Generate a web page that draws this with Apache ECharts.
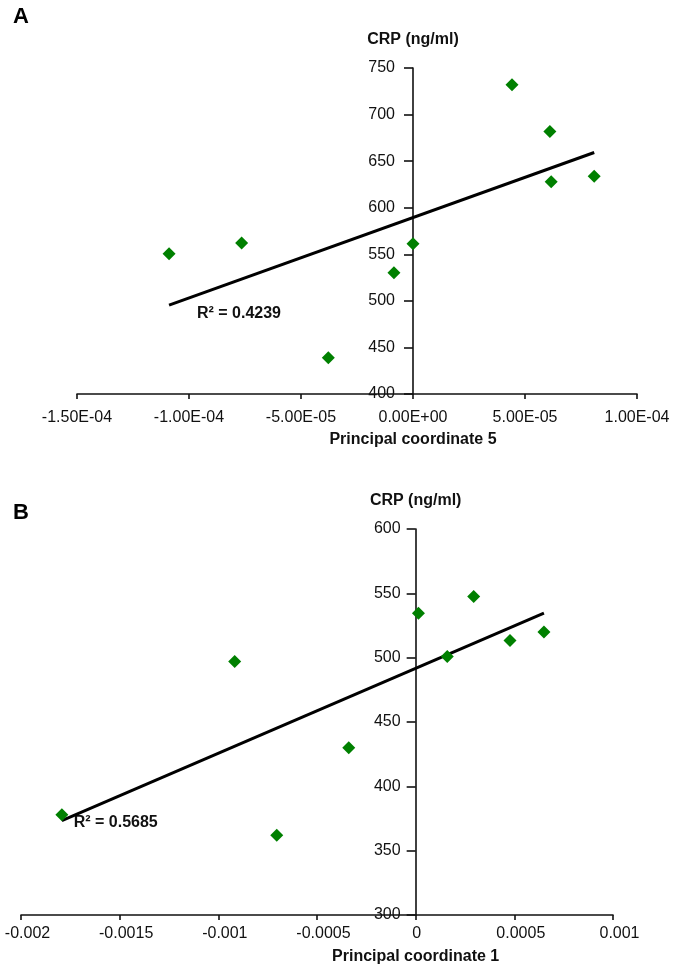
<!DOCTYPE html>
<html><head><meta charset="utf-8">
<script src="https://cdn.jsdelivr.net/npm/echarts@6/dist/echarts.min.js"></script>
<style>html,body{margin:0;padding:0;background:#fff}#c{width:675px;height:967px}</style>
</head><body><div id="c"></div>
<script>
// Panel A: Principal coordinate 5 vs CRP
const aX = [-1.089e-4, -7.65e-5, -3.78e-5, -8.5e-6, 0, 4.42e-5, 6.11e-5, 6.17e-5, 8.09e-5];
const aY = [550.6, 562, 438.9, 530.3, 561.4, 731.9, 681.9, 628, 633.7];
// Panel B: Principal coordinate 1 vs CRP
const bX = [-0.001793, -0.000917, -0.000704, -0.000339, 0.000014, 0.00016, 0.000294, 0.000478, 0.00065];
const bY = [378, 497, 362, 430, 534.6, 500.9, 547.5, 513.3, 520];

const panelLabels = ['A', 'B'];
const xTitles = ['Principal coordinate 5', 'Principal coordinate 1'];
const yTitle = 'CRP (ng/ml)';
const r2Labels = ['R\u00B2 = 0.4239', 'R\u00B2 = 0.5685'];
const r2Pos = [[-7.77e-5, 486.7], [-0.00152, 372]];

function fit(xs, ys) {
  const n = xs.length;
  const mx = xs.reduce((a, b) => a + b, 0) / n;
  const my = ys.reduce((a, b) => a + b, 0) / n;
  let sxy = 0, sxx = 0;
  for (let i = 0; i < n; i++) { sxy += (xs[i] - mx) * (ys[i] - my); sxx += (xs[i] - mx) ** 2; }
  const b = sxy / sxx, a = my - b * mx;
  const x0 = Math.min(...xs), x1 = Math.max(...xs);
  return [[x0, a + b * x0], [x1, a + b * x1]];
}
function sci(v) {
  if (Math.abs(v) < 1e-12) v = 0;
  const s = v.toExponential(2);
  const parts = s.split('e');
  const sign = parts[1][0] === '-' ? '-' : '+';
  let d = parts[1].replace(/[+-]/, '');
  if (d.length < 2) d = '0' + d;
  return parts[0] + 'E' + sign + d;
}
function dec(v) {
  if (Math.abs(v) < 1e-12) return '{z|0}';
  return '{s|' + String(parseFloat(v.toPrecision(6))) + '}';
}
const FONT = '"Liberation Sans", Arial, sans-serif';
const black = '#111';
const grids = [
  { left: 77, top: 68, width: 560, height: 326 },
  { left: 21, top: 529, width: 592, height: 386 }
];
const xRanges = [[-1.5e-4, 1e-4, 5e-5], [-0.002, 0.001, 0.0005]];
// pixel offset that places the y axis at x = 0 of the x axis
function zeroOffset(i) {
  const r = xRanges[i];
  return -grids[i].width * (0 - r[0]) / (r[1] - r[0]);
}
const labelFont = { color: black, fontSize: 16, fontFamily: FONT };
function xAxisCfg(idx, fmt, margin) {
  const r = xRanges[idx];
  return {
    type: 'value', gridIndex: idx, min: r[0], max: r[1], interval: r[2],
    axisLine: { onZero: false, lineStyle: { color: black, width: 1.6 } },
    axisTick: { show: true, inside: false, length: 5, lineStyle: { color: black, width: 1.6 } },
    axisLabel: Object.assign({
      formatter: fmt, margin: margin, showMinLabel: true, showMaxLabel: true,
      rich: {
        s: Object.assign({ padding: [0, 0, 0, 13] }, labelFont),
        z: Object.assign({ padding: [0, 0, 0, 2] }, labelFont)
      }
    }, labelFont),
    splitLine: { show: false }
  };
}
function yAxisCfg(idx, min, max, margin) {
  return {
    type: 'value', gridIndex: idx, min: min, max: max, interval: 50,
    position: 'left', offset: zeroOffset(idx),
    name: yTitle, nameLocation: 'end', nameGap: 20,
    nameTextStyle: { color: black, fontSize: 16, fontWeight: 'bold', fontFamily: FONT },
    axisLine: { onZero: false, lineStyle: { color: black, width: 1.6 } },
    axisTick: { show: true, inside: false, length: 9, lineStyle: { color: black, width: 1.6 } },
    axisLabel: Object.assign({ margin: margin }, labelFont),
    splitLine: { show: false }
  };
}
const chart = echarts.init(document.getElementById('c'), null, { renderer: 'canvas' });
const aPts = aX.map((x, i) => [x, aY[i]]);
const bPts = bX.map((x, i) => [x, bY[i]]);
const lineStyle = { color: '#000', width: 3 };
const pointStyle = { color: '#008000', opacity: 1 };
const option = {
  animation: false,
  backgroundColor: '#fff',
  grid: grids.map(gd => Object.assign({ outerBoundsMode: 'none', containLabel: false }, gd)),
  xAxis: [
    xAxisCfg(0, sci, 16),
    xAxisCfg(1, dec, 11)
  ],
  yAxis: [
    yAxisCfg(0, 400, 750, 18),
    yAxisCfg(1, 300, 600, 15)
  ],
  series: [
    { type: 'line', xAxisIndex: 0, yAxisIndex: 0, data: fit(aX, aY), symbol: 'none', lineStyle: lineStyle, z: 2 },
    { type: 'scatter', xAxisIndex: 0, yAxisIndex: 0, data: aPts, symbol: 'diamond', symbolSize: 13, itemStyle: pointStyle, z: 3 },
    { type: 'line', xAxisIndex: 1, yAxisIndex: 1, data: fit(bX, bY), symbol: 'none', lineStyle: lineStyle, z: 2 },
    { type: 'scatter', xAxisIndex: 1, yAxisIndex: 1, data: bPts, symbol: 'diamond', symbolSize: 13, itemStyle: pointStyle, z: 3 }
  ]
};
chart.setOption(option);

const g = [];
const letterY = [17, 513];
panelLabels.forEach((t, i) => {
  g.push({ type: 'text', x: 13, y: letterY[i], style: { text: t, fill: '#000', font: 'bold 22px ' + FONT, verticalAlign: 'middle', align: 'left' } });
});
const yBottoms = [400, 300];
const titleGap = [46, 42];
xTitles.forEach((t, i) => {
  const p = chart.convertToPixel({ gridIndex: i }, [0, yBottoms[i]]);
  g.push({ type: 'text', x: p[0], y: p[1] + titleGap[i], style: { text: t, fill: black, font: 'bold 16px ' + FONT, align: 'center', verticalAlign: 'middle' } });
});
r2Labels.forEach((t, i) => {
  const p = chart.convertToPixel({ gridIndex: i }, r2Pos[i]);
  g.push({ type: 'text', x: p[0], y: p[1], style: { text: t, fill: black, font: 'bold 16px ' + FONT, align: 'center', verticalAlign: 'middle' } });
});
chart.setOption({ graphic: g });
</script>
</body></html>
